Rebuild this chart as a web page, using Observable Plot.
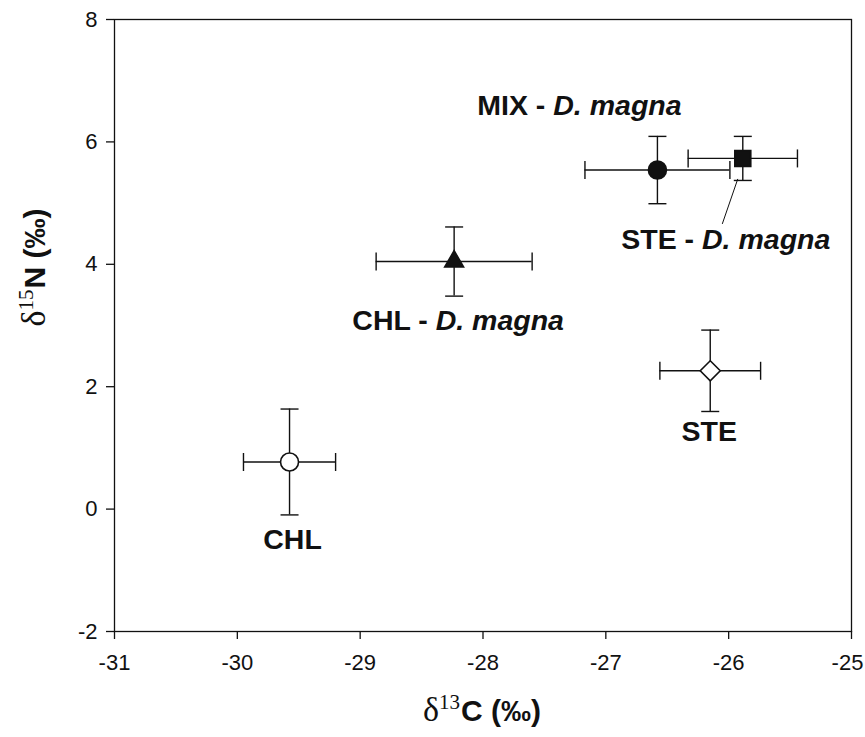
<!DOCTYPE html>
<html><head><meta charset="utf-8">
<script src="https://cdn.jsdelivr.net/npm/d3@7"></script>
<script src="https://cdn.jsdelivr.net/npm/@observablehq/plot@0.6"></script>
<style>body{margin:0;background:#fff}</style>
</head><body><div id="chart"></div>
<script>
// ---- data ----
const groups   = ["CHL", "STE", "CHL - D. magna", "MIX - D. magna", "STE - D. magna"];
const d13C     = [-29.575, -26.15, -28.235, -26.58, -25.885];
const d13C_err = [0.375, 0.41, 0.635, 0.59, 0.445];
const d15N     = [0.77, 2.26, 4.045, 5.54, 5.73];
const d15N_err = [0.865, 0.665, 0.565, 0.55, 0.36];
const xTicks   = [-31, -30, -29, -28, -27, -26, -25];
const yTicks   = [-2, 0, 2, 4, 6, 8];

// ---- styling ----
const ink = "#111";
const markerStyle = {
  "CHL":            {symbol: "circle",   r: 9,   fill: "white"},
  "STE":            {symbol: "diamond2", r: 9,   fill: "white"},
  "CHL - D. magna": {symbol: "triangle", r: 7,   fill: ink},
  "MIX - D. magna": {symbol: "circle",   r: 9,   fill: ink},
  "STE - D. magna": {symbol: "square",   r: 9,   fill: ink}
};
const labelOffset = {
  "CHL":            {dx: 3,   dy: 78},
  "STE":            {dx: -1,  dy: 61},
  "CHL - D. magna": {dx: 4,   dy: 59},
  "MIX - D. magna": {dx: -78, dy: -64},
  "STE - D. magna": {dx: -17, dy: 81}
};

const rows = groups.map((g, i) => ({group: g, x: d13C[i], xe: d13C_err[i], y: d15N[i], ye: d15N_err[i]}));

const vCap = {draw(ctx, size) { const r = Math.sqrt(size / Math.PI); ctx.moveTo(0, -r); ctx.lineTo(0, r); }};
const hCap = {draw(ctx, size) { const r = Math.sqrt(size / Math.PI); ctx.moveTo(-r, 0); ctx.lineTo(r, 0); }};

const SVGNS = "http://www.w3.org/2000/svg";
function italicize(index, scales, values, dims, ctx, next) {
  const g = next(index, scales, values, dims, ctx);
  for (const t of g.querySelectorAll("text")) {
    const s = t.textContent, k = s.indexOf("D. magna");
    if (k >= 0) {
      t.textContent = s.slice(0, k);
      const ts = document.createElementNS(SVGNS, "tspan");
      ts.setAttribute("font-style", "italic");
      ts.textContent = "D. magna";
      t.appendChild(ts);
    }
  }
  return g;
}
function isotopeTitle(sup, elem) {
  return function(index, scales, values, dims, ctx, next) {
    const g = next(index, scales, values, dims, ctx);
    const t = g.querySelector("text");
    t.textContent = "";
    const serif = "'Liberation Serif', 'Times New Roman', serif";
    const a = document.createElementNS(SVGNS, "tspan");
    a.setAttribute("font-family", serif);
    a.setAttribute("font-weight", "normal");
    a.setAttribute("font-size", "34");
    a.textContent = "δ";
    const b = document.createElementNS(SVGNS, "tspan");
    b.setAttribute("font-family", serif);
    b.setAttribute("font-weight", "normal");
    b.setAttribute("font-size", "21");
    b.setAttribute("dy", "-12");
    b.textContent = sup;
    const c = document.createElementNS(SVGNS, "tspan");
    c.setAttribute("dy", "12");
    c.setAttribute("dx", "1");
    c.textContent = elem + " (‰)";
    t.append(a, b, c);
    return g;
  };
}

const marks = [
  Plot.frame({stroke: ink, strokeWidth: 1.3}),
  Plot.axisX({ticks: xTicks, tickSize: 8, tickPadding: 15, tickFormat: d => d === -25 ? "" : String(d), fontSize: 22, label: null, stroke: ink, strokeWidth: 1.3, fill: ink}),
  Plot.text([-25], {x: d => d, frameAnchor: "bottom", dy: 23, lineAnchor: "top", dx: -4, text: d => String(d), fontSize: 22, fill: ink}),
  Plot.axisY({ticks: yTicks, tickSize: 8, tickPadding: 9, tickFormat: d => String(d), fontSize: 22, label: null, stroke: ink, strokeWidth: 1.3, fill: ink}),
  // error bars
  Plot.ruleY(rows, {y: "y", x1: d => d.x - d.xe, x2: d => d.x + d.xe, stroke: ink, strokeWidth: 1.4}),
  Plot.ruleX(rows, {x: "x", y1: d => d.y - d.ye, y2: d => d.y + d.ye, stroke: ink, strokeWidth: 1.4}),
  Plot.dot(rows, {x: d => d.x - d.xe, y: "y", symbol: vCap, r: 9, stroke: ink, strokeWidth: 1.4, fill: "none"}),
  Plot.dot(rows, {x: d => d.x + d.xe, y: "y", symbol: vCap, r: 9, stroke: ink, strokeWidth: 1.4, fill: "none"}),
  Plot.dot(rows, {x: "x", y: d => d.y - d.ye, symbol: hCap, r: 9, stroke: ink, strokeWidth: 1.4, fill: "none"}),
  Plot.dot(rows, {x: "x", y: d => d.y + d.ye, symbol: hCap, r: 9, stroke: ink, strokeWidth: 1.4, fill: "none"}),
  // leader line for STE - D. magna
  Plot.link(rows.filter(d => d.group === "STE - D. magna"), {
    x1: "x", y1: "y", x2: "x", y2: "y", stroke: ink, strokeWidth: 1,
    render(index, scales, values, dims, ctx, next) {
      const d = rows.find(r => r.group === "STE - D. magna");
      const px = scales.x(d.x), py = scales.y(d.y);
      const g = document.createElementNS(SVGNS, "g");
      const l = document.createElementNS(SVGNS, "line");
      l.setAttribute("x1", px - 4.5); l.setAttribute("y1", py + 21);
      l.setAttribute("x2", px - 20);  l.setAttribute("y2", py + 66);
      l.setAttribute("stroke", ink); l.setAttribute("stroke-width", 1);
      g.appendChild(l);
      return g;
    }
  }),
  // markers
  ...rows.map(d => Plot.dot([d], {x: "x", y: "y", symbol: markerStyle[d.group].symbol, r: markerStyle[d.group].r,
    fill: markerStyle[d.group].fill, stroke: ink, strokeWidth: 1.6})),
  // labels
  ...rows.map(d => Plot.text([d], {x: "x", y: "y", text: "group", dx: labelOffset[d.group].dx, dy: labelOffset[d.group].dy,
    fontSize: 28.5, fontWeight: "bold", fill: ink, render: italicize})),
  // axis titles
  Plot.text(["x"], {frameAnchor: "bottom", dy: 89, dx: -1, text: d => d, fontSize: 30, fontWeight: "bold", fill: ink, render: isotopeTitle("13", "C")}),
  Plot.text(["y"], {frameAnchor: "left", dx: -79, dy: 1, rotate: -90, text: d => d, fontSize: 30, fontWeight: "bold", fill: ink, render: isotopeTitle("15", "N")})
];

const chart = Plot.plot({
  width: 865, height: 737,
  marginTop: 19, marginRight: 14, marginBottom: 106, marginLeft: 114,
  x: {domain: [-31, -25]},
  y: {domain: [-2, 8]},
  style: {fontFamily: "'Liberation Sans', Arial, sans-serif", background: "white", color: ink},
  marks
});
document.getElementById("chart").appendChild(chart);
</script>
</body></html>
